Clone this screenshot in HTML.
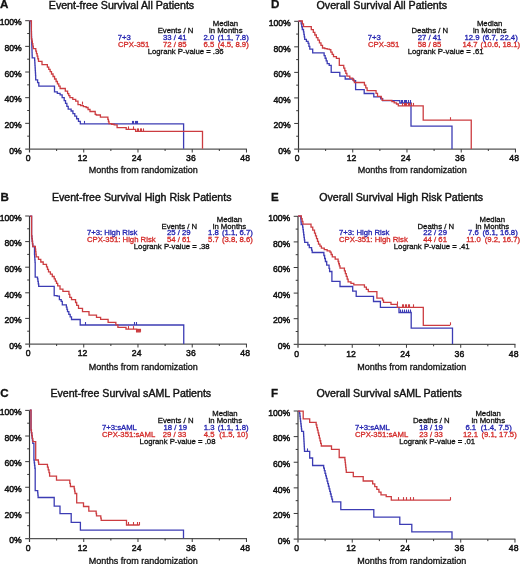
<!DOCTYPE html>
<html><head><meta charset="utf-8"><style>
html,body{margin:0;padding:0;background:#fff;}
svg{display:block;font-family:"Liberation Sans",sans-serif;filter:blur(0.4px);}
</style></head><body>
<svg width="520" height="564" viewBox="0 0 520 564">
<rect width="520" height="564" fill="#fff"/>
<text x="0.00" y="8.10" font-size="11.6" fill="#111" font-weight="700" text-anchor="start" stroke="#111" stroke-width="0.3">A</text>
<text x="271.00" y="8.10" font-size="11.6" fill="#111" font-weight="700" text-anchor="start" stroke="#111" stroke-width="0.3">D</text>
<text x="0.60" y="201.00" font-size="11.6" fill="#111" font-weight="700" text-anchor="start" stroke="#111" stroke-width="0.3">B</text>
<text x="271.00" y="201.20" font-size="11.6" fill="#111" font-weight="700" text-anchor="start" stroke="#111" stroke-width="0.3">E</text>
<text x="0.30" y="396.90" font-size="11.6" fill="#111" font-weight="700" text-anchor="start" stroke="#111" stroke-width="0.3">C</text>
<text x="271.00" y="397.00" font-size="11.6" fill="#111" font-weight="700" text-anchor="start" stroke="#111" stroke-width="0.3">F</text>
<text x="48.80" y="8.65" font-size="10.6" fill="#111" font-weight="400" text-anchor="start" stroke="#111" stroke-width="0.4" textLength="145.4" lengthAdjust="spacingAndGlyphs">Event-free Survival All Patients</text>
<text x="316.50" y="8.65" font-size="10.6" fill="#111" font-weight="400" text-anchor="start" stroke="#111" stroke-width="0.4" textLength="130.6" lengthAdjust="spacingAndGlyphs">Overall Survival All Patients</text>
<text x="51.90" y="200.70" font-size="10.6" fill="#111" font-weight="400" text-anchor="start" stroke="#111" stroke-width="0.4" textLength="179.6" lengthAdjust="spacingAndGlyphs">Event-free Survival High Risk Patients</text>
<text x="319.20" y="200.70" font-size="10.6" fill="#111" font-weight="400" text-anchor="start" stroke="#111" stroke-width="0.4" textLength="163.9" lengthAdjust="spacingAndGlyphs">Overall Survival High Risk Patients</text>
<text x="50.40" y="396.80" font-size="10.6" fill="#111" font-weight="400" text-anchor="start" stroke="#111" stroke-width="0.4" textLength="160.8" lengthAdjust="spacingAndGlyphs">Event-free Survival sAML Patients</text>
<text x="316.50" y="396.80" font-size="10.6" fill="#111" font-weight="400" text-anchor="start" stroke="#111" stroke-width="0.4" textLength="145.4" lengthAdjust="spacingAndGlyphs">Overall Survival sAML Patients</text>
<line x1="29.5" y1="20.7" x2="29.5" y2="152.5" stroke="#333" stroke-width="1.15"/>
<line x1="25.2" y1="149.0" x2="246.95999999999998" y2="149.0" stroke="#555" stroke-width="1.25"/>
<text x="21.80" y="153.70" font-size="9.4" fill="#111" font-weight="400" text-anchor="end" stroke="#111" stroke-width="0.5" textLength="12.5" lengthAdjust="spacingAndGlyphs">0%</text>
<line x1="27.2" y1="136.17" x2="29.5" y2="136.17" stroke="#3a3a3a" stroke-width="1"/>
<line x1="25.2" y1="123.34" x2="29.5" y2="123.34" stroke="#3a3a3a" stroke-width="1"/>
<text x="21.80" y="128.04" font-size="9.4" fill="#111" font-weight="400" text-anchor="end" stroke="#111" stroke-width="0.5" textLength="17.3" lengthAdjust="spacingAndGlyphs">20%</text>
<line x1="27.2" y1="110.51" x2="29.5" y2="110.51" stroke="#3a3a3a" stroke-width="1"/>
<line x1="25.2" y1="97.68" x2="29.5" y2="97.68" stroke="#3a3a3a" stroke-width="1"/>
<text x="21.80" y="102.38" font-size="9.4" fill="#111" font-weight="400" text-anchor="end" stroke="#111" stroke-width="0.5" textLength="17.3" lengthAdjust="spacingAndGlyphs">40%</text>
<line x1="27.2" y1="84.85" x2="29.5" y2="84.85" stroke="#3a3a3a" stroke-width="1"/>
<line x1="25.2" y1="72.02" x2="29.5" y2="72.02" stroke="#3a3a3a" stroke-width="1"/>
<text x="21.80" y="76.72" font-size="9.4" fill="#111" font-weight="400" text-anchor="end" stroke="#111" stroke-width="0.5" textLength="17.3" lengthAdjust="spacingAndGlyphs">60%</text>
<line x1="27.2" y1="59.19" x2="29.5" y2="59.19" stroke="#3a3a3a" stroke-width="1"/>
<line x1="25.2" y1="46.36" x2="29.5" y2="46.36" stroke="#3a3a3a" stroke-width="1"/>
<text x="21.80" y="51.06" font-size="9.4" fill="#111" font-weight="400" text-anchor="end" stroke="#111" stroke-width="0.5" textLength="17.3" lengthAdjust="spacingAndGlyphs">80%</text>
<line x1="27.2" y1="33.53" x2="29.5" y2="33.53" stroke="#3a3a3a" stroke-width="1"/>
<line x1="25.2" y1="20.70" x2="29.5" y2="20.70" stroke="#3a3a3a" stroke-width="1"/>
<text x="21.80" y="25.40" font-size="9.4" fill="#111" font-weight="400" text-anchor="end" stroke="#111" stroke-width="0.5" textLength="22.11" lengthAdjust="spacingAndGlyphs">100%</text>
<text x="28.20" y="161.30" font-size="9.4" fill="#111" font-weight="400" text-anchor="middle" stroke="#111" stroke-width="0.5" textLength="4.81" lengthAdjust="spacingAndGlyphs">0</text>
<line x1="56.62" y1="149.0" x2="56.62" y2="151.0" stroke="#3a3a3a" stroke-width="1"/>
<line x1="83.74" y1="149.0" x2="83.74" y2="152.5" stroke="#3a3a3a" stroke-width="1"/>
<text x="82.44" y="161.30" font-size="9.4" fill="#111" font-weight="400" text-anchor="middle" stroke="#111" stroke-width="0.5" textLength="9.62" lengthAdjust="spacingAndGlyphs">12</text>
<line x1="110.86" y1="149.0" x2="110.86" y2="151.0" stroke="#3a3a3a" stroke-width="1"/>
<line x1="137.98" y1="149.0" x2="137.98" y2="152.5" stroke="#3a3a3a" stroke-width="1"/>
<text x="136.68" y="161.30" font-size="9.4" fill="#111" font-weight="400" text-anchor="middle" stroke="#111" stroke-width="0.5" textLength="9.62" lengthAdjust="spacingAndGlyphs">24</text>
<line x1="165.10" y1="149.0" x2="165.10" y2="151.0" stroke="#3a3a3a" stroke-width="1"/>
<line x1="192.22" y1="149.0" x2="192.22" y2="152.5" stroke="#3a3a3a" stroke-width="1"/>
<text x="190.92" y="161.30" font-size="9.4" fill="#111" font-weight="400" text-anchor="middle" stroke="#111" stroke-width="0.5" textLength="9.62" lengthAdjust="spacingAndGlyphs">36</text>
<line x1="219.34" y1="149.0" x2="219.34" y2="151.0" stroke="#3a3a3a" stroke-width="1"/>
<line x1="246.46" y1="149.0" x2="246.46" y2="152.5" stroke="#3a3a3a" stroke-width="1"/>
<text x="245.16" y="161.30" font-size="9.4" fill="#111" font-weight="400" text-anchor="middle" stroke="#111" stroke-width="0.5" textLength="9.62" lengthAdjust="spacingAndGlyphs">48</text>
<text x="88.70" y="172.60" font-size="9" fill="#111" font-weight="400" text-anchor="start" stroke="#111" stroke-width="0.3" textLength="109" lengthAdjust="spacingAndGlyphs">Months from randomization</text>
<line x1="298.5" y1="21.3" x2="298.5" y2="152.5" stroke="#333" stroke-width="1.15"/>
<line x1="294.2" y1="149.0" x2="515.96" y2="149.0" stroke="#555" stroke-width="1.25"/>
<text x="290.80" y="153.70" font-size="9.4" fill="#111" font-weight="400" text-anchor="end" stroke="#111" stroke-width="0.5" textLength="12.5" lengthAdjust="spacingAndGlyphs">0%</text>
<line x1="296.2" y1="136.23" x2="298.5" y2="136.23" stroke="#3a3a3a" stroke-width="1"/>
<line x1="294.2" y1="123.46" x2="298.5" y2="123.46" stroke="#3a3a3a" stroke-width="1"/>
<text x="290.80" y="128.16" font-size="9.4" fill="#111" font-weight="400" text-anchor="end" stroke="#111" stroke-width="0.5" textLength="17.3" lengthAdjust="spacingAndGlyphs">20%</text>
<line x1="296.2" y1="110.69" x2="298.5" y2="110.69" stroke="#3a3a3a" stroke-width="1"/>
<line x1="294.2" y1="97.92" x2="298.5" y2="97.92" stroke="#3a3a3a" stroke-width="1"/>
<text x="290.80" y="102.62" font-size="9.4" fill="#111" font-weight="400" text-anchor="end" stroke="#111" stroke-width="0.5" textLength="17.3" lengthAdjust="spacingAndGlyphs">40%</text>
<line x1="296.2" y1="85.15" x2="298.5" y2="85.15" stroke="#3a3a3a" stroke-width="1"/>
<line x1="294.2" y1="72.38" x2="298.5" y2="72.38" stroke="#3a3a3a" stroke-width="1"/>
<text x="290.80" y="77.08" font-size="9.4" fill="#111" font-weight="400" text-anchor="end" stroke="#111" stroke-width="0.5" textLength="17.3" lengthAdjust="spacingAndGlyphs">60%</text>
<line x1="296.2" y1="59.61" x2="298.5" y2="59.61" stroke="#3a3a3a" stroke-width="1"/>
<line x1="294.2" y1="46.84" x2="298.5" y2="46.84" stroke="#3a3a3a" stroke-width="1"/>
<text x="290.80" y="51.54" font-size="9.4" fill="#111" font-weight="400" text-anchor="end" stroke="#111" stroke-width="0.5" textLength="17.3" lengthAdjust="spacingAndGlyphs">80%</text>
<line x1="296.2" y1="34.07" x2="298.5" y2="34.07" stroke="#3a3a3a" stroke-width="1"/>
<line x1="294.2" y1="21.30" x2="298.5" y2="21.30" stroke="#3a3a3a" stroke-width="1"/>
<text x="290.80" y="26.00" font-size="9.4" fill="#111" font-weight="400" text-anchor="end" stroke="#111" stroke-width="0.5" textLength="22.11" lengthAdjust="spacingAndGlyphs">100%</text>
<text x="297.20" y="161.30" font-size="9.4" fill="#111" font-weight="400" text-anchor="middle" stroke="#111" stroke-width="0.5" textLength="4.81" lengthAdjust="spacingAndGlyphs">0</text>
<line x1="325.62" y1="149.0" x2="325.62" y2="151.0" stroke="#3a3a3a" stroke-width="1"/>
<line x1="352.74" y1="149.0" x2="352.74" y2="152.5" stroke="#3a3a3a" stroke-width="1"/>
<text x="351.44" y="161.30" font-size="9.4" fill="#111" font-weight="400" text-anchor="middle" stroke="#111" stroke-width="0.5" textLength="9.62" lengthAdjust="spacingAndGlyphs">12</text>
<line x1="379.86" y1="149.0" x2="379.86" y2="151.0" stroke="#3a3a3a" stroke-width="1"/>
<line x1="406.98" y1="149.0" x2="406.98" y2="152.5" stroke="#3a3a3a" stroke-width="1"/>
<text x="405.68" y="161.30" font-size="9.4" fill="#111" font-weight="400" text-anchor="middle" stroke="#111" stroke-width="0.5" textLength="9.62" lengthAdjust="spacingAndGlyphs">24</text>
<line x1="434.10" y1="149.0" x2="434.10" y2="151.0" stroke="#3a3a3a" stroke-width="1"/>
<line x1="461.22" y1="149.0" x2="461.22" y2="152.5" stroke="#3a3a3a" stroke-width="1"/>
<text x="459.92" y="161.30" font-size="9.4" fill="#111" font-weight="400" text-anchor="middle" stroke="#111" stroke-width="0.5" textLength="9.62" lengthAdjust="spacingAndGlyphs">36</text>
<line x1="488.34" y1="149.0" x2="488.34" y2="151.0" stroke="#3a3a3a" stroke-width="1"/>
<line x1="515.46" y1="149.0" x2="515.46" y2="152.5" stroke="#3a3a3a" stroke-width="1"/>
<text x="514.16" y="161.30" font-size="9.4" fill="#111" font-weight="400" text-anchor="middle" stroke="#111" stroke-width="0.5" textLength="9.62" lengthAdjust="spacingAndGlyphs">48</text>
<text x="357.70" y="172.60" font-size="9" fill="#111" font-weight="400" text-anchor="start" stroke="#111" stroke-width="0.3" textLength="109" lengthAdjust="spacingAndGlyphs">Months from randomization</text>
<line x1="29.5" y1="216.0" x2="29.5" y2="347.5" stroke="#333" stroke-width="1.15"/>
<line x1="25.2" y1="344.0" x2="246.95999999999998" y2="344.0" stroke="#555" stroke-width="1.25"/>
<text x="21.80" y="348.70" font-size="9.4" fill="#111" font-weight="400" text-anchor="end" stroke="#111" stroke-width="0.5" textLength="12.5" lengthAdjust="spacingAndGlyphs">0%</text>
<line x1="27.2" y1="331.20" x2="29.5" y2="331.20" stroke="#3a3a3a" stroke-width="1"/>
<line x1="25.2" y1="318.40" x2="29.5" y2="318.40" stroke="#3a3a3a" stroke-width="1"/>
<text x="21.80" y="323.10" font-size="9.4" fill="#111" font-weight="400" text-anchor="end" stroke="#111" stroke-width="0.5" textLength="17.3" lengthAdjust="spacingAndGlyphs">20%</text>
<line x1="27.2" y1="305.60" x2="29.5" y2="305.60" stroke="#3a3a3a" stroke-width="1"/>
<line x1="25.2" y1="292.80" x2="29.5" y2="292.80" stroke="#3a3a3a" stroke-width="1"/>
<text x="21.80" y="297.50" font-size="9.4" fill="#111" font-weight="400" text-anchor="end" stroke="#111" stroke-width="0.5" textLength="17.3" lengthAdjust="spacingAndGlyphs">40%</text>
<line x1="27.2" y1="280.00" x2="29.5" y2="280.00" stroke="#3a3a3a" stroke-width="1"/>
<line x1="25.2" y1="267.20" x2="29.5" y2="267.20" stroke="#3a3a3a" stroke-width="1"/>
<text x="21.80" y="271.90" font-size="9.4" fill="#111" font-weight="400" text-anchor="end" stroke="#111" stroke-width="0.5" textLength="17.3" lengthAdjust="spacingAndGlyphs">60%</text>
<line x1="27.2" y1="254.40" x2="29.5" y2="254.40" stroke="#3a3a3a" stroke-width="1"/>
<line x1="25.2" y1="241.60" x2="29.5" y2="241.60" stroke="#3a3a3a" stroke-width="1"/>
<text x="21.80" y="246.30" font-size="9.4" fill="#111" font-weight="400" text-anchor="end" stroke="#111" stroke-width="0.5" textLength="17.3" lengthAdjust="spacingAndGlyphs">80%</text>
<line x1="27.2" y1="228.80" x2="29.5" y2="228.80" stroke="#3a3a3a" stroke-width="1"/>
<line x1="25.2" y1="216.00" x2="29.5" y2="216.00" stroke="#3a3a3a" stroke-width="1"/>
<text x="21.80" y="220.70" font-size="9.4" fill="#111" font-weight="400" text-anchor="end" stroke="#111" stroke-width="0.5" textLength="22.11" lengthAdjust="spacingAndGlyphs">100%</text>
<text x="28.20" y="356.30" font-size="9.4" fill="#111" font-weight="400" text-anchor="middle" stroke="#111" stroke-width="0.5" textLength="4.81" lengthAdjust="spacingAndGlyphs">0</text>
<line x1="56.62" y1="344.0" x2="56.62" y2="346.0" stroke="#3a3a3a" stroke-width="1"/>
<line x1="83.74" y1="344.0" x2="83.74" y2="347.5" stroke="#3a3a3a" stroke-width="1"/>
<text x="82.44" y="356.30" font-size="9.4" fill="#111" font-weight="400" text-anchor="middle" stroke="#111" stroke-width="0.5" textLength="9.62" lengthAdjust="spacingAndGlyphs">12</text>
<line x1="110.86" y1="344.0" x2="110.86" y2="346.0" stroke="#3a3a3a" stroke-width="1"/>
<line x1="137.98" y1="344.0" x2="137.98" y2="347.5" stroke="#3a3a3a" stroke-width="1"/>
<text x="136.68" y="356.30" font-size="9.4" fill="#111" font-weight="400" text-anchor="middle" stroke="#111" stroke-width="0.5" textLength="9.62" lengthAdjust="spacingAndGlyphs">24</text>
<line x1="165.10" y1="344.0" x2="165.10" y2="346.0" stroke="#3a3a3a" stroke-width="1"/>
<line x1="192.22" y1="344.0" x2="192.22" y2="347.5" stroke="#3a3a3a" stroke-width="1"/>
<text x="190.92" y="356.30" font-size="9.4" fill="#111" font-weight="400" text-anchor="middle" stroke="#111" stroke-width="0.5" textLength="9.62" lengthAdjust="spacingAndGlyphs">36</text>
<line x1="219.34" y1="344.0" x2="219.34" y2="346.0" stroke="#3a3a3a" stroke-width="1"/>
<line x1="246.46" y1="344.0" x2="246.46" y2="347.5" stroke="#3a3a3a" stroke-width="1"/>
<text x="245.16" y="356.30" font-size="9.4" fill="#111" font-weight="400" text-anchor="middle" stroke="#111" stroke-width="0.5" textLength="9.62" lengthAdjust="spacingAndGlyphs">48</text>
<text x="88.70" y="370.00" font-size="9" fill="#111" font-weight="400" text-anchor="start" stroke="#111" stroke-width="0.3" textLength="109" lengthAdjust="spacingAndGlyphs">Months from randomization</text>
<line x1="298.0" y1="216.3" x2="298.0" y2="347.8" stroke="#333" stroke-width="1.15"/>
<line x1="293.7" y1="344.3" x2="515.46" y2="344.3" stroke="#555" stroke-width="1.25"/>
<text x="290.30" y="349.00" font-size="9.4" fill="#111" font-weight="400" text-anchor="end" stroke="#111" stroke-width="0.5" textLength="12.5" lengthAdjust="spacingAndGlyphs">0%</text>
<line x1="295.7" y1="331.50" x2="298.0" y2="331.50" stroke="#3a3a3a" stroke-width="1"/>
<line x1="293.7" y1="318.70" x2="298.0" y2="318.70" stroke="#3a3a3a" stroke-width="1"/>
<text x="290.30" y="323.40" font-size="9.4" fill="#111" font-weight="400" text-anchor="end" stroke="#111" stroke-width="0.5" textLength="17.3" lengthAdjust="spacingAndGlyphs">20%</text>
<line x1="295.7" y1="305.90" x2="298.0" y2="305.90" stroke="#3a3a3a" stroke-width="1"/>
<line x1="293.7" y1="293.10" x2="298.0" y2="293.10" stroke="#3a3a3a" stroke-width="1"/>
<text x="290.30" y="297.80" font-size="9.4" fill="#111" font-weight="400" text-anchor="end" stroke="#111" stroke-width="0.5" textLength="17.3" lengthAdjust="spacingAndGlyphs">40%</text>
<line x1="295.7" y1="280.30" x2="298.0" y2="280.30" stroke="#3a3a3a" stroke-width="1"/>
<line x1="293.7" y1="267.50" x2="298.0" y2="267.50" stroke="#3a3a3a" stroke-width="1"/>
<text x="290.30" y="272.20" font-size="9.4" fill="#111" font-weight="400" text-anchor="end" stroke="#111" stroke-width="0.5" textLength="17.3" lengthAdjust="spacingAndGlyphs">60%</text>
<line x1="295.7" y1="254.70" x2="298.0" y2="254.70" stroke="#3a3a3a" stroke-width="1"/>
<line x1="293.7" y1="241.90" x2="298.0" y2="241.90" stroke="#3a3a3a" stroke-width="1"/>
<text x="290.30" y="246.60" font-size="9.4" fill="#111" font-weight="400" text-anchor="end" stroke="#111" stroke-width="0.5" textLength="17.3" lengthAdjust="spacingAndGlyphs">80%</text>
<line x1="295.7" y1="229.10" x2="298.0" y2="229.10" stroke="#3a3a3a" stroke-width="1"/>
<line x1="293.7" y1="216.30" x2="298.0" y2="216.30" stroke="#3a3a3a" stroke-width="1"/>
<text x="290.30" y="221.00" font-size="9.4" fill="#111" font-weight="400" text-anchor="end" stroke="#111" stroke-width="0.5" textLength="22.11" lengthAdjust="spacingAndGlyphs">100%</text>
<text x="296.70" y="356.60" font-size="9.4" fill="#111" font-weight="400" text-anchor="middle" stroke="#111" stroke-width="0.5" textLength="4.81" lengthAdjust="spacingAndGlyphs">0</text>
<line x1="325.12" y1="344.3" x2="325.12" y2="346.3" stroke="#3a3a3a" stroke-width="1"/>
<line x1="352.24" y1="344.3" x2="352.24" y2="347.8" stroke="#3a3a3a" stroke-width="1"/>
<text x="350.94" y="356.60" font-size="9.4" fill="#111" font-weight="400" text-anchor="middle" stroke="#111" stroke-width="0.5" textLength="9.62" lengthAdjust="spacingAndGlyphs">12</text>
<line x1="379.36" y1="344.3" x2="379.36" y2="346.3" stroke="#3a3a3a" stroke-width="1"/>
<line x1="406.48" y1="344.3" x2="406.48" y2="347.8" stroke="#3a3a3a" stroke-width="1"/>
<text x="405.18" y="356.60" font-size="9.4" fill="#111" font-weight="400" text-anchor="middle" stroke="#111" stroke-width="0.5" textLength="9.62" lengthAdjust="spacingAndGlyphs">24</text>
<line x1="433.60" y1="344.3" x2="433.60" y2="346.3" stroke="#3a3a3a" stroke-width="1"/>
<line x1="460.72" y1="344.3" x2="460.72" y2="347.8" stroke="#3a3a3a" stroke-width="1"/>
<text x="459.42" y="356.60" font-size="9.4" fill="#111" font-weight="400" text-anchor="middle" stroke="#111" stroke-width="0.5" textLength="9.62" lengthAdjust="spacingAndGlyphs">36</text>
<line x1="487.84" y1="344.3" x2="487.84" y2="346.3" stroke="#3a3a3a" stroke-width="1"/>
<line x1="514.96" y1="344.3" x2="514.96" y2="347.8" stroke="#3a3a3a" stroke-width="1"/>
<text x="513.66" y="356.60" font-size="9.4" fill="#111" font-weight="400" text-anchor="middle" stroke="#111" stroke-width="0.5" textLength="9.62" lengthAdjust="spacingAndGlyphs">48</text>
<text x="357.20" y="370.00" font-size="9" fill="#111" font-weight="400" text-anchor="start" stroke="#111" stroke-width="0.3" textLength="109" lengthAdjust="spacingAndGlyphs">Months from randomization</text>
<line x1="29.5" y1="410.4" x2="29.5" y2="542.0" stroke="#333" stroke-width="1.15"/>
<line x1="25.2" y1="538.5" x2="246.95999999999998" y2="538.5" stroke="#555" stroke-width="1.25"/>
<text x="21.80" y="543.20" font-size="9.4" fill="#111" font-weight="400" text-anchor="end" stroke="#111" stroke-width="0.5" textLength="12.5" lengthAdjust="spacingAndGlyphs">0%</text>
<line x1="27.2" y1="525.69" x2="29.5" y2="525.69" stroke="#3a3a3a" stroke-width="1"/>
<line x1="25.2" y1="512.88" x2="29.5" y2="512.88" stroke="#3a3a3a" stroke-width="1"/>
<text x="21.80" y="517.58" font-size="9.4" fill="#111" font-weight="400" text-anchor="end" stroke="#111" stroke-width="0.5" textLength="17.3" lengthAdjust="spacingAndGlyphs">20%</text>
<line x1="27.2" y1="500.07" x2="29.5" y2="500.07" stroke="#3a3a3a" stroke-width="1"/>
<line x1="25.2" y1="487.26" x2="29.5" y2="487.26" stroke="#3a3a3a" stroke-width="1"/>
<text x="21.80" y="491.96" font-size="9.4" fill="#111" font-weight="400" text-anchor="end" stroke="#111" stroke-width="0.5" textLength="17.3" lengthAdjust="spacingAndGlyphs">40%</text>
<line x1="27.2" y1="474.45" x2="29.5" y2="474.45" stroke="#3a3a3a" stroke-width="1"/>
<line x1="25.2" y1="461.64" x2="29.5" y2="461.64" stroke="#3a3a3a" stroke-width="1"/>
<text x="21.80" y="466.34" font-size="9.4" fill="#111" font-weight="400" text-anchor="end" stroke="#111" stroke-width="0.5" textLength="17.3" lengthAdjust="spacingAndGlyphs">60%</text>
<line x1="27.2" y1="448.83" x2="29.5" y2="448.83" stroke="#3a3a3a" stroke-width="1"/>
<line x1="25.2" y1="436.02" x2="29.5" y2="436.02" stroke="#3a3a3a" stroke-width="1"/>
<text x="21.80" y="440.72" font-size="9.4" fill="#111" font-weight="400" text-anchor="end" stroke="#111" stroke-width="0.5" textLength="17.3" lengthAdjust="spacingAndGlyphs">80%</text>
<line x1="27.2" y1="423.21" x2="29.5" y2="423.21" stroke="#3a3a3a" stroke-width="1"/>
<line x1="25.2" y1="410.40" x2="29.5" y2="410.40" stroke="#3a3a3a" stroke-width="1"/>
<text x="21.80" y="415.10" font-size="9.4" fill="#111" font-weight="400" text-anchor="end" stroke="#111" stroke-width="0.5" textLength="22.11" lengthAdjust="spacingAndGlyphs">100%</text>
<text x="28.20" y="550.80" font-size="9.4" fill="#111" font-weight="400" text-anchor="middle" stroke="#111" stroke-width="0.5" textLength="4.81" lengthAdjust="spacingAndGlyphs">0</text>
<line x1="56.62" y1="538.5" x2="56.62" y2="540.5" stroke="#3a3a3a" stroke-width="1"/>
<line x1="83.74" y1="538.5" x2="83.74" y2="542.0" stroke="#3a3a3a" stroke-width="1"/>
<text x="82.44" y="550.80" font-size="9.4" fill="#111" font-weight="400" text-anchor="middle" stroke="#111" stroke-width="0.5" textLength="9.62" lengthAdjust="spacingAndGlyphs">12</text>
<line x1="110.86" y1="538.5" x2="110.86" y2="540.5" stroke="#3a3a3a" stroke-width="1"/>
<line x1="137.98" y1="538.5" x2="137.98" y2="542.0" stroke="#3a3a3a" stroke-width="1"/>
<text x="136.68" y="550.80" font-size="9.4" fill="#111" font-weight="400" text-anchor="middle" stroke="#111" stroke-width="0.5" textLength="9.62" lengthAdjust="spacingAndGlyphs">24</text>
<line x1="165.10" y1="538.5" x2="165.10" y2="540.5" stroke="#3a3a3a" stroke-width="1"/>
<line x1="192.22" y1="538.5" x2="192.22" y2="542.0" stroke="#3a3a3a" stroke-width="1"/>
<text x="190.92" y="550.80" font-size="9.4" fill="#111" font-weight="400" text-anchor="middle" stroke="#111" stroke-width="0.5" textLength="9.62" lengthAdjust="spacingAndGlyphs">36</text>
<line x1="219.34" y1="538.5" x2="219.34" y2="540.5" stroke="#3a3a3a" stroke-width="1"/>
<line x1="246.46" y1="538.5" x2="246.46" y2="542.0" stroke="#3a3a3a" stroke-width="1"/>
<text x="245.16" y="550.80" font-size="9.4" fill="#111" font-weight="400" text-anchor="middle" stroke="#111" stroke-width="0.5" textLength="9.62" lengthAdjust="spacingAndGlyphs">48</text>
<text x="88.70" y="564.00" font-size="9" fill="#111" font-weight="400" text-anchor="start" stroke="#111" stroke-width="0.3" textLength="109" lengthAdjust="spacingAndGlyphs">Months from randomization</text>
<line x1="298.0" y1="411.0" x2="298.0" y2="542.6" stroke="#333" stroke-width="1.15"/>
<line x1="293.7" y1="539.1" x2="515.46" y2="539.1" stroke="#555" stroke-width="1.25"/>
<text x="290.30" y="543.80" font-size="9.4" fill="#111" font-weight="400" text-anchor="end" stroke="#111" stroke-width="0.5" textLength="12.5" lengthAdjust="spacingAndGlyphs">0%</text>
<line x1="295.7" y1="526.29" x2="298.0" y2="526.29" stroke="#3a3a3a" stroke-width="1"/>
<line x1="293.7" y1="513.48" x2="298.0" y2="513.48" stroke="#3a3a3a" stroke-width="1"/>
<text x="290.30" y="518.18" font-size="9.4" fill="#111" font-weight="400" text-anchor="end" stroke="#111" stroke-width="0.5" textLength="17.3" lengthAdjust="spacingAndGlyphs">20%</text>
<line x1="295.7" y1="500.67" x2="298.0" y2="500.67" stroke="#3a3a3a" stroke-width="1"/>
<line x1="293.7" y1="487.86" x2="298.0" y2="487.86" stroke="#3a3a3a" stroke-width="1"/>
<text x="290.30" y="492.56" font-size="9.4" fill="#111" font-weight="400" text-anchor="end" stroke="#111" stroke-width="0.5" textLength="17.3" lengthAdjust="spacingAndGlyphs">40%</text>
<line x1="295.7" y1="475.05" x2="298.0" y2="475.05" stroke="#3a3a3a" stroke-width="1"/>
<line x1="293.7" y1="462.24" x2="298.0" y2="462.24" stroke="#3a3a3a" stroke-width="1"/>
<text x="290.30" y="466.94" font-size="9.4" fill="#111" font-weight="400" text-anchor="end" stroke="#111" stroke-width="0.5" textLength="17.3" lengthAdjust="spacingAndGlyphs">60%</text>
<line x1="295.7" y1="449.43" x2="298.0" y2="449.43" stroke="#3a3a3a" stroke-width="1"/>
<line x1="293.7" y1="436.62" x2="298.0" y2="436.62" stroke="#3a3a3a" stroke-width="1"/>
<text x="290.30" y="441.32" font-size="9.4" fill="#111" font-weight="400" text-anchor="end" stroke="#111" stroke-width="0.5" textLength="17.3" lengthAdjust="spacingAndGlyphs">80%</text>
<line x1="295.7" y1="423.81" x2="298.0" y2="423.81" stroke="#3a3a3a" stroke-width="1"/>
<line x1="293.7" y1="411.00" x2="298.0" y2="411.00" stroke="#3a3a3a" stroke-width="1"/>
<text x="290.30" y="415.70" font-size="9.4" fill="#111" font-weight="400" text-anchor="end" stroke="#111" stroke-width="0.5" textLength="22.11" lengthAdjust="spacingAndGlyphs">100%</text>
<text x="296.70" y="551.40" font-size="9.4" fill="#111" font-weight="400" text-anchor="middle" stroke="#111" stroke-width="0.5" textLength="4.81" lengthAdjust="spacingAndGlyphs">0</text>
<line x1="325.12" y1="539.1" x2="325.12" y2="541.1" stroke="#3a3a3a" stroke-width="1"/>
<line x1="352.24" y1="539.1" x2="352.24" y2="542.6" stroke="#3a3a3a" stroke-width="1"/>
<text x="350.94" y="551.40" font-size="9.4" fill="#111" font-weight="400" text-anchor="middle" stroke="#111" stroke-width="0.5" textLength="9.62" lengthAdjust="spacingAndGlyphs">12</text>
<line x1="379.36" y1="539.1" x2="379.36" y2="541.1" stroke="#3a3a3a" stroke-width="1"/>
<line x1="406.48" y1="539.1" x2="406.48" y2="542.6" stroke="#3a3a3a" stroke-width="1"/>
<text x="405.18" y="551.40" font-size="9.4" fill="#111" font-weight="400" text-anchor="middle" stroke="#111" stroke-width="0.5" textLength="9.62" lengthAdjust="spacingAndGlyphs">24</text>
<line x1="433.60" y1="539.1" x2="433.60" y2="541.1" stroke="#3a3a3a" stroke-width="1"/>
<line x1="460.72" y1="539.1" x2="460.72" y2="542.6" stroke="#3a3a3a" stroke-width="1"/>
<text x="459.42" y="551.40" font-size="9.4" fill="#111" font-weight="400" text-anchor="middle" stroke="#111" stroke-width="0.5" textLength="9.62" lengthAdjust="spacingAndGlyphs">36</text>
<line x1="487.84" y1="539.1" x2="487.84" y2="541.1" stroke="#3a3a3a" stroke-width="1"/>
<line x1="514.96" y1="539.1" x2="514.96" y2="542.6" stroke="#3a3a3a" stroke-width="1"/>
<text x="513.66" y="551.40" font-size="9.4" fill="#111" font-weight="400" text-anchor="middle" stroke="#111" stroke-width="0.5" textLength="9.62" lengthAdjust="spacingAndGlyphs">48</text>
<text x="357.20" y="564.00" font-size="9" fill="#111" font-weight="400" text-anchor="start" stroke="#111" stroke-width="0.3" textLength="109" lengthAdjust="spacingAndGlyphs">Months from randomization</text>
<text transform="translate(212.80,25.90) scale(1.0197,1)" font-size="7.6" fill="#111" font-weight="400" text-anchor="start" stroke="#111" stroke-width="0.3">Median</text>
<text transform="translate(157.70,32.90) scale(1.0197,1)" font-size="7.6" fill="#111" font-weight="400" text-anchor="start" stroke="#111" stroke-width="0.3">Events / N</text>
<text transform="translate(209.00,32.90) scale(1.0197,1)" font-size="7.6" fill="#111" font-weight="400" text-anchor="start" stroke="#111" stroke-width="0.3">in Months</text>
<text transform="translate(117.70,40.10) scale(1.0197,1)" font-size="7.6" fill="#2323b0" font-weight="400" text-anchor="start" stroke="#2323b0" stroke-width="0.3">7+3</text>
<text transform="translate(163.00,40.10) scale(1.0197,1)" font-size="7.6" fill="#2323b0" font-weight="400" text-anchor="start" stroke="#2323b0" stroke-width="0.3">33 / 41</text>
<text transform="translate(203.50,40.10) scale(1.0197,1)" font-size="7.6" fill="#2323b0" font-weight="400" text-anchor="start" stroke="#2323b0" stroke-width="0.3">2.0</text>
<text transform="translate(217.80,40.10) scale(1.0197,1)" font-size="7.6" fill="#2323b0" font-weight="400" text-anchor="start" stroke="#2323b0" stroke-width="0.3">(1.1, 7.8)</text>
<text transform="translate(118.00,47.00) scale(1.0197,1)" font-size="7.6" fill="#d42c2a" font-weight="400" text-anchor="start" stroke="#d42c2a" stroke-width="0.3">CPX-351</text>
<text transform="translate(163.00,47.00) scale(1.0197,1)" font-size="7.6" fill="#d42c2a" font-weight="400" text-anchor="start" stroke="#d42c2a" stroke-width="0.3">72 / 85</text>
<text transform="translate(203.50,47.00) scale(1.0197,1)" font-size="7.6" fill="#d42c2a" font-weight="400" text-anchor="start" stroke="#d42c2a" stroke-width="0.3">6.5</text>
<text transform="translate(217.80,47.00) scale(1.0197,1)" font-size="7.6" fill="#d42c2a" font-weight="400" text-anchor="start" stroke="#d42c2a" stroke-width="0.3">(4.5, 8.9)</text>
<text transform="translate(147.70,54.30) scale(1.0197,1)" font-size="7.6" fill="#111" font-weight="400" text-anchor="start" stroke="#111" stroke-width="0.3">Logrank P-value = .36</text>
<text transform="translate(476.90,25.90) scale(1.0197,1)" font-size="7.6" fill="#111" font-weight="400" text-anchor="start" stroke="#111" stroke-width="0.3">Median</text>
<text transform="translate(411.50,32.90) scale(1.0197,1)" font-size="7.6" fill="#111" font-weight="400" text-anchor="start" stroke="#111" stroke-width="0.3">Deaths / N</text>
<text transform="translate(473.00,32.90) scale(1.0197,1)" font-size="7.6" fill="#111" font-weight="400" text-anchor="start" stroke="#111" stroke-width="0.3">in Months</text>
<text transform="translate(367.70,40.10) scale(1.0197,1)" font-size="7.6" fill="#2323b0" font-weight="400" text-anchor="start" stroke="#2323b0" stroke-width="0.3">7+3</text>
<text transform="translate(417.70,40.10) scale(1.0197,1)" font-size="7.6" fill="#2323b0" font-weight="400" text-anchor="start" stroke="#2323b0" stroke-width="0.3">27 / 41</text>
<text transform="translate(464.40,40.10) scale(1.0197,1)" font-size="7.6" fill="#2323b0" font-weight="400" text-anchor="start" stroke="#2323b0" stroke-width="0.3">12.9</text>
<text transform="translate(482.50,40.10) scale(1.0197,1)" font-size="7.6" fill="#2323b0" font-weight="400" text-anchor="start" stroke="#2323b0" stroke-width="0.3">(6.7, 22.4)</text>
<text transform="translate(368.00,47.00) scale(1.0197,1)" font-size="7.6" fill="#d42c2a" font-weight="400" text-anchor="start" stroke="#d42c2a" stroke-width="0.3">CPX-351</text>
<text transform="translate(417.70,47.00) scale(1.0197,1)" font-size="7.6" fill="#d42c2a" font-weight="400" text-anchor="start" stroke="#d42c2a" stroke-width="0.3">58 / 85</text>
<text transform="translate(462.50,47.00) scale(1.0197,1)" font-size="7.6" fill="#d42c2a" font-weight="400" text-anchor="start" stroke="#d42c2a" stroke-width="0.3">14.7</text>
<text transform="translate(480.60,47.00) scale(1.0197,1)" font-size="7.6" fill="#d42c2a" font-weight="400" text-anchor="start" stroke="#d42c2a" stroke-width="0.3">(10.6, 18.1)</text>
<text transform="translate(407.70,54.30) scale(1.0197,1)" font-size="7.6" fill="#111" font-weight="400" text-anchor="start" stroke="#111" stroke-width="0.3">Logrank P-value = .61</text>
<text transform="translate(216.70,221.50) scale(1.0197,1)" font-size="7.6" fill="#111" font-weight="400" text-anchor="start" stroke="#111" stroke-width="0.3">Median</text>
<text transform="translate(161.50,228.50) scale(1.0197,1)" font-size="7.6" fill="#111" font-weight="400" text-anchor="start" stroke="#111" stroke-width="0.3">Events / N</text>
<text transform="translate(212.70,228.50) scale(1.0197,1)" font-size="7.6" fill="#111" font-weight="400" text-anchor="start" stroke="#111" stroke-width="0.3">in Months</text>
<text transform="translate(86.90,234.90) scale(1.0197,1)" font-size="7.6" fill="#2323b0" font-weight="400" text-anchor="start" stroke="#2323b0" stroke-width="0.3">7+3: High Risk</text>
<text transform="translate(166.90,234.90) scale(1.0197,1)" font-size="7.6" fill="#2323b0" font-weight="400" text-anchor="start" stroke="#2323b0" stroke-width="0.3">25 / 29</text>
<text transform="translate(208.10,234.90) scale(1.0197,1)" font-size="7.6" fill="#2323b0" font-weight="400" text-anchor="start" stroke="#2323b0" stroke-width="0.3">1.8</text>
<text transform="translate(221.90,234.90) scale(1.0197,1)" font-size="7.6" fill="#2323b0" font-weight="400" text-anchor="start" stroke="#2323b0" stroke-width="0.3">(1.1, 6.7)</text>
<text transform="translate(86.90,241.80) scale(1.0197,1)" font-size="7.6" fill="#d42c2a" font-weight="400" text-anchor="start" stroke="#d42c2a" stroke-width="0.3">CPX-351: High Risk</text>
<text transform="translate(166.90,241.80) scale(1.0197,1)" font-size="7.6" fill="#d42c2a" font-weight="400" text-anchor="start" stroke="#d42c2a" stroke-width="0.3">54 / 61</text>
<text transform="translate(208.10,241.80) scale(1.0197,1)" font-size="7.6" fill="#d42c2a" font-weight="400" text-anchor="start" stroke="#d42c2a" stroke-width="0.3">5.7</text>
<text transform="translate(221.90,241.80) scale(1.0197,1)" font-size="7.6" fill="#d42c2a" font-weight="400" text-anchor="start" stroke="#d42c2a" stroke-width="0.3">(3.8, 8.6)</text>
<text transform="translate(133.80,248.60) scale(1.0197,1)" font-size="7.6" fill="#111" font-weight="400" text-anchor="start" stroke="#111" stroke-width="0.3">Logrank P-value = .38</text>
<text transform="translate(479.60,221.50) scale(1.0197,1)" font-size="7.6" fill="#111" font-weight="400" text-anchor="start" stroke="#111" stroke-width="0.3">Median</text>
<text transform="translate(417.50,228.50) scale(1.0197,1)" font-size="7.6" fill="#111" font-weight="400" text-anchor="start" stroke="#111" stroke-width="0.3">Deaths / N</text>
<text transform="translate(475.60,228.50) scale(1.0197,1)" font-size="7.6" fill="#111" font-weight="400" text-anchor="start" stroke="#111" stroke-width="0.3">in Months</text>
<text transform="translate(339.00,234.90) scale(1.0197,1)" font-size="7.6" fill="#2323b0" font-weight="400" text-anchor="start" stroke="#2323b0" stroke-width="0.3">7+3: High Risk</text>
<text transform="translate(423.30,234.90) scale(1.0197,1)" font-size="7.6" fill="#2323b0" font-weight="400" text-anchor="start" stroke="#2323b0" stroke-width="0.3">22 / 29</text>
<text transform="translate(468.10,234.90) scale(1.0197,1)" font-size="7.6" fill="#2323b0" font-weight="400" text-anchor="start" stroke="#2323b0" stroke-width="0.3">7.6</text>
<text transform="translate(482.50,234.90) scale(1.0197,1)" font-size="7.6" fill="#2323b0" font-weight="400" text-anchor="start" stroke="#2323b0" stroke-width="0.3">(6.1, 16.8)</text>
<text transform="translate(339.00,241.80) scale(1.0197,1)" font-size="7.6" fill="#d42c2a" font-weight="400" text-anchor="start" stroke="#d42c2a" stroke-width="0.3">CPX-351: High Risk</text>
<text transform="translate(423.30,241.80) scale(1.0197,1)" font-size="7.6" fill="#d42c2a" font-weight="400" text-anchor="start" stroke="#d42c2a" stroke-width="0.3">44 / 61</text>
<text transform="translate(466.30,241.80) scale(1.0197,1)" font-size="7.6" fill="#d42c2a" font-weight="400" text-anchor="start" stroke="#d42c2a" stroke-width="0.3">11.0</text>
<text transform="translate(484.80,241.80) scale(1.0197,1)" font-size="7.6" fill="#d42c2a" font-weight="400" text-anchor="start" stroke="#d42c2a" stroke-width="0.3">(9.2, 16.7)</text>
<text transform="translate(393.80,248.60) scale(1.0197,1)" font-size="7.6" fill="#111" font-weight="400" text-anchor="start" stroke="#111" stroke-width="0.3">Logrank P-value = .41</text>
<text transform="translate(212.30,415.60) scale(1.0197,1)" font-size="7.6" fill="#111" font-weight="400" text-anchor="start" stroke="#111" stroke-width="0.3">Median</text>
<text transform="translate(157.80,422.70) scale(1.0197,1)" font-size="7.6" fill="#111" font-weight="400" text-anchor="start" stroke="#111" stroke-width="0.3">Events / N</text>
<text transform="translate(208.50,422.70) scale(1.0197,1)" font-size="7.6" fill="#111" font-weight="400" text-anchor="start" stroke="#111" stroke-width="0.3">in Months</text>
<text transform="translate(101.90,429.60) scale(1.0197,1)" font-size="7.6" fill="#2323b0" font-weight="400" text-anchor="start" stroke="#2323b0" stroke-width="0.3">7+3:sAML</text>
<text transform="translate(163.50,429.60) scale(1.0197,1)" font-size="7.6" fill="#2323b0" font-weight="400" text-anchor="start" stroke="#2323b0" stroke-width="0.3">18 / 19</text>
<text transform="translate(203.80,429.60) scale(1.0197,1)" font-size="7.6" fill="#2323b0" font-weight="400" text-anchor="start" stroke="#2323b0" stroke-width="0.3">1.3</text>
<text transform="translate(217.70,429.60) scale(1.0197,1)" font-size="7.6" fill="#2323b0" font-weight="400" text-anchor="start" stroke="#2323b0" stroke-width="0.3">(1.1, 1.8)</text>
<text transform="translate(101.90,436.50) scale(1.0197,1)" font-size="7.6" fill="#d42c2a" font-weight="400" text-anchor="start" stroke="#d42c2a" stroke-width="0.3">CPX-351:sAML</text>
<text transform="translate(162.70,436.50) scale(1.0197,1)" font-size="7.6" fill="#d42c2a" font-weight="400" text-anchor="start" stroke="#d42c2a" stroke-width="0.3">29 / 33</text>
<text transform="translate(203.80,436.50) scale(1.0197,1)" font-size="7.6" fill="#d42c2a" font-weight="400" text-anchor="start" stroke="#d42c2a" stroke-width="0.3">4.5</text>
<text transform="translate(219.20,436.50) scale(1.0197,1)" font-size="7.6" fill="#d42c2a" font-weight="400" text-anchor="start" stroke="#d42c2a" stroke-width="0.3">(1.5, 10)</text>
<text transform="translate(139.60,443.50) scale(1.0197,1)" font-size="7.6" fill="#111" font-weight="400" text-anchor="start" stroke="#111" stroke-width="0.3">Logrank P-value = .08</text>
<text transform="translate(475.40,415.60) scale(1.0197,1)" font-size="7.6" fill="#111" font-weight="400" text-anchor="start" stroke="#111" stroke-width="0.3">Median</text>
<text transform="translate(413.00,422.70) scale(1.0197,1)" font-size="7.6" fill="#111" font-weight="400" text-anchor="start" stroke="#111" stroke-width="0.3">Deaths / N</text>
<text transform="translate(471.50,422.70) scale(1.0197,1)" font-size="7.6" fill="#111" font-weight="400" text-anchor="start" stroke="#111" stroke-width="0.3">in Months</text>
<text transform="translate(354.90,429.60) scale(1.0197,1)" font-size="7.6" fill="#2323b0" font-weight="400" text-anchor="start" stroke="#2323b0" stroke-width="0.3">7+3:sAML</text>
<text transform="translate(419.20,429.60) scale(1.0197,1)" font-size="7.6" fill="#2323b0" font-weight="400" text-anchor="start" stroke="#2323b0" stroke-width="0.3">18 / 19</text>
<text transform="translate(465.40,429.60) scale(1.0197,1)" font-size="7.6" fill="#2323b0" font-weight="400" text-anchor="start" stroke="#2323b0" stroke-width="0.3">6.1</text>
<text transform="translate(480.80,429.60) scale(1.0197,1)" font-size="7.6" fill="#2323b0" font-weight="400" text-anchor="start" stroke="#2323b0" stroke-width="0.3">(1.4, 7.5)</text>
<text transform="translate(354.90,436.50) scale(1.0197,1)" font-size="7.6" fill="#d42c2a" font-weight="400" text-anchor="start" stroke="#d42c2a" stroke-width="0.3">CPX-351:sAML</text>
<text transform="translate(419.20,436.50) scale(1.0197,1)" font-size="7.6" fill="#d42c2a" font-weight="400" text-anchor="start" stroke="#d42c2a" stroke-width="0.3">23 / 33</text>
<text transform="translate(463.00,436.50) scale(1.0197,1)" font-size="7.6" fill="#d42c2a" font-weight="400" text-anchor="start" stroke="#d42c2a" stroke-width="0.3">12.1</text>
<text transform="translate(481.50,436.50) scale(1.0197,1)" font-size="7.6" fill="#d42c2a" font-weight="400" text-anchor="start" stroke="#d42c2a" stroke-width="0.3">(9.1, 17.5)</text>
<text transform="translate(399.20,443.50) scale(1.0197,1)" font-size="7.6" fill="#111" font-weight="400" text-anchor="start" stroke="#111" stroke-width="0.3">Logrank P-value = .01</text>
<path d="M29.60,20.90 H31.00 H31.09 V23.54 H31.17 V26.17 H31.26 V28.81 H31.34 V31.44 H31.43 V34.08 H31.51 V36.71 H31.60 V39.35 H31.69 V41.99 H31.77 V44.62 H31.86 V47.26 H31.94 V49.89 H32.03 V52.53 H32.11 V55.16 H32.20 V57.80 H34.50 H34.65 V60.32 H34.80 V62.85 H34.95 V65.38 H35.10 V67.90 H35.25 V70.42 H35.40 V72.95 H35.55 V75.47 H35.70 V78.00 V79.80 H37.60 V82.70 H38.80 V86.20 H54.50 V91.90 H57.30 V93.35 H60.10 V94.80 H62.15 V97.70 H64.20 V100.60 H65.53 V103.47 H66.87 V106.33 H68.20 V109.20 H71.10 V111.00 H72.94 V113.58 H74.78 V116.16 H76.62 V118.74 H78.46 V121.32 H80.30 V123.90 H183.60 V148.80" fill="none" stroke="#3c3cb4" stroke-width="1.3"/>
<line x1="84.50" y1="120.90" x2="84.50" y2="123.90" stroke="#3c3cb4" stroke-width="1.1"/>
<line x1="132.50" y1="120.90" x2="132.50" y2="123.90" stroke="#3c3cb4" stroke-width="1.1"/>
<line x1="133.50" y1="120.90" x2="133.50" y2="123.90" stroke="#3c3cb4" stroke-width="1.1"/>
<line x1="135.50" y1="120.90" x2="135.50" y2="123.90" stroke="#3c3cb4" stroke-width="1.1"/>
<line x1="136.50" y1="120.90" x2="136.50" y2="123.90" stroke="#3c3cb4" stroke-width="1.1"/>
<line x1="137.50" y1="120.90" x2="137.50" y2="123.90" stroke="#3c3cb4" stroke-width="1.1"/>
<path d="M29.60,20.90 H31.40 V38.80 H31.88 V41.25 H32.35 V43.70 H32.82 V46.15 H33.30 V48.60 H35.10 H35.78 V51.14 H36.46 V53.68 H37.14 V56.22 H37.82 V58.76 H38.50 V61.30 H42.00 V64.70 H46.00 H47.38 V67.03 H48.75 V69.35 H50.12 V71.67 H51.50 V74.00 H53.03 V76.50 H54.57 V79.00 H56.10 V81.50 H57.43 V83.83 H58.77 V86.17 H60.10 V88.50 H63.00 H65.30 V91.10 H67.60 V93.70 H68.75 V95.70 H69.90 V97.70 H72.80 V99.45 H75.70 V101.20 H78.00 V104.60 H80.70 V105.57 H83.40 V106.53 H86.10 V107.50 H88.05 V109.50 H90.00 V111.50 H95.20 V114.40 H96.30 V115.00 H100.40 V117.10 H107.30 H107.87 V119.30 H108.43 V121.50 H109.00 V123.70 H111.60 V124.25 H114.20 V124.80 H117.10 V127.70 H126.20 V129.40 H135.60 V131.40 H202.50 V148.80" fill="none" stroke="#cc3c40" stroke-width="1.3"/>
<line x1="82.50" y1="101.60" x2="82.50" y2="104.60" stroke="#cc3c40" stroke-width="1.1"/>
<line x1="128.50" y1="126.40" x2="128.50" y2="129.40" stroke="#cc3c40" stroke-width="1.1"/>
<line x1="133.50" y1="126.40" x2="133.50" y2="129.40" stroke="#cc3c40" stroke-width="1.1"/>
<line x1="137.50" y1="128.40" x2="137.50" y2="131.40" stroke="#cc3c40" stroke-width="1.1"/>
<line x1="138.50" y1="128.40" x2="138.50" y2="131.40" stroke="#cc3c40" stroke-width="1.1"/>
<line x1="140.50" y1="128.40" x2="140.50" y2="131.40" stroke="#cc3c40" stroke-width="1.1"/>
<line x1="141.50" y1="128.40" x2="141.50" y2="131.40" stroke="#cc3c40" stroke-width="1.1"/>
<line x1="143.50" y1="128.40" x2="143.50" y2="131.40" stroke="#cc3c40" stroke-width="1.1"/>
<path d="M298.50,21.20 H300.60 H301.17 V23.97 H301.73 V26.73 H302.30 V29.50 H303.50 V31.80 H303.90 V34.30 H304.30 V36.80 H304.70 V39.30 H306.40 V41.35 H308.10 V43.40 H308.95 V46.30 H309.80 V49.20 H312.70 V52.90 H323.10 H324.12 V55.58 H325.15 V58.25 H326.18 V60.92 H327.20 V63.60 H329.20 V65.30 H331.20 V67.00 V72.40 H339.80 V76.20 H345.20 V79.00 H351.50 H353.55 V80.75 H355.60 V82.50 V89.60 H364.20 V93.50 H373.80 V96.90 H378.70 H380.70 V98.75 H382.70 V100.60 H399.80 V103.00 H411.00 V126.20 H452.00 V149.00" fill="none" stroke="#3c3cb4" stroke-width="1.3"/>
<line x1="401.50" y1="100.00" x2="401.50" y2="103.00" stroke="#3c3cb4" stroke-width="1.1"/>
<line x1="402.50" y1="100.00" x2="402.50" y2="103.00" stroke="#3c3cb4" stroke-width="1.1"/>
<line x1="404.50" y1="100.00" x2="404.50" y2="103.00" stroke="#3c3cb4" stroke-width="1.1"/>
<line x1="405.50" y1="100.00" x2="405.50" y2="103.00" stroke="#3c3cb4" stroke-width="1.1"/>
<line x1="406.50" y1="100.00" x2="406.50" y2="103.00" stroke="#3c3cb4" stroke-width="1.1"/>
<line x1="408.50" y1="100.00" x2="408.50" y2="103.00" stroke="#3c3cb4" stroke-width="1.1"/>
<line x1="410.50" y1="100.00" x2="410.50" y2="103.00" stroke="#3c3cb4" stroke-width="1.1"/>
<path d="M298.50,21.00 H301.20 H302.35 V23.85 H303.50 V26.70 H309.30 H311.30 V29.55 H313.30 V32.40 H314.83 V35.00 H316.37 V37.60 H317.90 V40.20 H319.43 V42.80 H320.97 V45.40 H322.50 V48.00 H324.83 V48.57 H327.17 V49.13 H329.50 V49.70 H330.83 V52.03 H332.17 V54.37 H333.50 V56.70 H336.40 V58.40 H339.30 V60.10 V65.30 H342.70 H343.75 V68.03 H344.80 V70.75 H345.85 V73.47 H346.90 V76.20 H349.80 V78.20 H352.70 V80.20 H354.40 V82.50 H363.10 H364.43 V85.20 H365.77 V87.90 H367.10 V90.60 H374.60 H376.05 V93.45 H377.50 V96.30 H380.40 H381.25 V98.35 H382.10 V100.40 H389.60 H391.90 V101.60 H394.20 V102.80 H396.50 V104.00 H398.30 V105.80 H423.20 V120.20 H471.25 V149.00" fill="none" stroke="#cc3c40" stroke-width="1.3"/>
<line x1="402.50" y1="102.90" x2="402.50" y2="105.90" stroke="#cc3c40" stroke-width="1.1"/>
<line x1="404.50" y1="102.90" x2="404.50" y2="105.90" stroke="#cc3c40" stroke-width="1.1"/>
<line x1="405.50" y1="102.90" x2="405.50" y2="105.90" stroke="#cc3c40" stroke-width="1.1"/>
<line x1="406.50" y1="102.90" x2="406.50" y2="105.90" stroke="#cc3c40" stroke-width="1.1"/>
<line x1="408.50" y1="102.90" x2="408.50" y2="105.90" stroke="#cc3c40" stroke-width="1.1"/>
<line x1="409.50" y1="102.90" x2="409.50" y2="105.90" stroke="#cc3c40" stroke-width="1.1"/>
<line x1="411.50" y1="102.90" x2="411.50" y2="105.90" stroke="#cc3c40" stroke-width="1.1"/>
<line x1="413.50" y1="102.90" x2="413.50" y2="105.90" stroke="#cc3c40" stroke-width="1.1"/>
<line x1="450.50" y1="117.20" x2="450.50" y2="120.20" stroke="#cc3c40" stroke-width="1.1"/>
<path d="M29.80,216.20 H31.60 V236.00 H31.90 V238.62 H32.20 V241.25 H32.50 V243.88 H32.80 V246.50 H34.50 V254.50 H34.67 V257.12 H34.85 V259.75 H35.03 V262.38 H35.20 V265.00 V277.10 H37.50 V278.80 H37.90 V281.30 H38.30 V283.80 H38.70 V286.30 H54.20 V295.60 H57.10 V296.20 H59.40 V299.60 H61.20 V301.30 H62.30 V304.80 H65.80 H66.37 V307.10 H66.93 V309.40 H67.50 V311.70 H68.83 V314.30 H70.17 V316.90 H71.50 V319.50 H80.20 V325.00 H183.75 V343.90" fill="none" stroke="#3c3cb4" stroke-width="1.3"/>
<line x1="85.50" y1="322.00" x2="85.50" y2="325.00" stroke="#3c3cb4" stroke-width="1.1"/>
<line x1="134.50" y1="322.00" x2="134.50" y2="325.00" stroke="#3c3cb4" stroke-width="1.1"/>
<line x1="136.50" y1="322.00" x2="136.50" y2="325.00" stroke="#3c3cb4" stroke-width="1.1"/>
<path d="M29.80,216.20 H31.60 V236.00 H31.90 V238.62 H32.20 V241.25 H32.50 V243.88 H32.80 V246.50 H35.10 H35.38 V249.07 H35.65 V251.65 H35.93 V254.23 H36.20 V256.80 H38.50 V259.40 H40.80 V262.00 H43.20 V264.30 H45.50 H46.50 V266.83 H47.50 V269.37 H48.50 V271.90 H50.40 V274.20 H52.30 V276.50 H54.20 V278.80 H55.37 V281.13 H56.53 V283.47 H57.70 V285.80 H60.00 V289.20 H62.90 V291.30 H68.10 H68.95 V294.30 H69.80 V297.30 H71.50 V299.60 H74.40 H75.55 V302.50 H76.70 V305.40 H78.50 V308.30 H82.50 V311.70 H89.00 V315.20 H96.50 V317.30 H100.60 V319.30 H108.10 V322.30 H113.80 H115.85 V324.80 H117.90 V327.30 H126.00 V329.10 H136.60 V331.80 H140.70" fill="none" stroke="#cc3c40" stroke-width="1.3"/>
<line x1="128.50" y1="326.10" x2="128.50" y2="329.10" stroke="#cc3c40" stroke-width="1.1"/>
<line x1="133.50" y1="326.10" x2="133.50" y2="329.10" stroke="#cc3c40" stroke-width="1.1"/>
<line x1="137.50" y1="328.80" x2="137.50" y2="331.80" stroke="#cc3c40" stroke-width="1.1"/>
<line x1="138.50" y1="328.80" x2="138.50" y2="331.80" stroke="#cc3c40" stroke-width="1.1"/>
<line x1="139.50" y1="328.80" x2="139.50" y2="331.80" stroke="#cc3c40" stroke-width="1.1"/>
<line x1="140.50" y1="328.80" x2="140.50" y2="331.80" stroke="#cc3c40" stroke-width="1.1"/>
<path d="M298.10,216.20 H300.60 H300.80 V218.97 H301.00 V221.73 H301.20 V224.50 H302.30 H302.64 V227.06 H302.99 V229.61 H303.33 V232.17 H303.67 V234.73 H304.01 V237.29 H304.36 V239.84 H304.70 V242.40 H306.40 H307.85 V245.00 H309.30 V247.60 H311.00 H311.60 V250.05 H312.20 V252.50 H323.10 H323.87 V255.50 H324.63 V258.50 H325.40 V261.50 H326.70 V265.20 H328.50 H329.05 V268.35 H329.60 V271.50 H331.90 V281.30 H340.00 V286.50 H352.70 V291.20 H356.20 V296.30 H373.50 V301.50 H380.40 V307.30 H399.00 V312.50 H411.20 V328.10 H452.50 V343.90" fill="none" stroke="#3c3cb4" stroke-width="1.3"/>
<line x1="400.50" y1="309.50" x2="400.50" y2="312.50" stroke="#3c3cb4" stroke-width="1.1"/>
<line x1="402.50" y1="309.50" x2="402.50" y2="312.50" stroke="#3c3cb4" stroke-width="1.1"/>
<line x1="404.50" y1="309.50" x2="404.50" y2="312.50" stroke="#3c3cb4" stroke-width="1.1"/>
<line x1="406.50" y1="309.50" x2="406.50" y2="312.50" stroke="#3c3cb4" stroke-width="1.1"/>
<line x1="408.50" y1="309.50" x2="408.50" y2="312.50" stroke="#3c3cb4" stroke-width="1.1"/>
<line x1="410.50" y1="309.50" x2="410.50" y2="312.50" stroke="#3c3cb4" stroke-width="1.1"/>
<path d="M298.10,216.00 H300.60 H301.37 V218.73 H302.13 V221.47 H302.90 V224.20 H309.30 H311.03 V227.20 H312.77 V230.20 H314.50 V233.20 H315.50 V235.95 H316.50 V238.70 H317.50 V241.45 H318.50 V244.20 H319.95 V246.20 H321.40 V248.20 H324.27 V249.53 H327.13 V250.87 H330.00 V252.20 H331.15 V254.50 H332.30 V256.80 H335.20 V259.15 H338.10 V261.50 H338.73 V263.73 H339.37 V265.97 H340.00 V268.20 H343.50 H344.42 V270.94 H345.34 V273.68 H346.26 V276.42 H347.18 V279.16 H348.10 V281.90 H350.95 V283.35 H353.80 V284.80 H362.50 H364.43 V287.10 H366.37 V289.40 H368.30 V291.70 H373.50 H376.90 V294.00 V298.10 H381.50 H382.50 V300.20 H383.50 V302.30 H391.00 V304.40 H397.30 V307.30 H423.30 V325.30 H450.00" fill="none" stroke="#cc3c40" stroke-width="1.3"/>
<line x1="397.50" y1="301.40" x2="397.50" y2="304.40" stroke="#cc3c40" stroke-width="1.1"/>
<line x1="402.50" y1="304.30" x2="402.50" y2="307.30" stroke="#cc3c40" stroke-width="1.1"/>
<line x1="403.50" y1="304.30" x2="403.50" y2="307.30" stroke="#cc3c40" stroke-width="1.1"/>
<line x1="405.50" y1="304.30" x2="405.50" y2="307.30" stroke="#cc3c40" stroke-width="1.1"/>
<line x1="406.50" y1="304.30" x2="406.50" y2="307.30" stroke="#cc3c40" stroke-width="1.1"/>
<line x1="408.50" y1="304.30" x2="408.50" y2="307.30" stroke="#cc3c40" stroke-width="1.1"/>
<line x1="409.50" y1="304.30" x2="409.50" y2="307.30" stroke="#cc3c40" stroke-width="1.1"/>
<line x1="413.50" y1="304.30" x2="413.50" y2="307.30" stroke="#cc3c40" stroke-width="1.1"/>
<line x1="450.50" y1="322.30" x2="450.50" y2="325.30" stroke="#cc3c40" stroke-width="1.1"/>
<path d="M29.80,410.20 H31.00 V430.00 H31.36 V432.66 H31.72 V435.32 H32.08 V437.98 H32.44 V440.64 H32.80 V443.30 H33.90 V460.00 H34.23 V462.75 H34.55 V465.50 H34.88 V468.25 H35.20 V471.00 V490.60 H37.50 H37.70 V492.90 H37.90 V495.20 H38.10 V497.50 H54.20 V506.20 H60.00 V513.70 H71.20 V522.40 H80.40 V530.10 H183.50 V538.20" fill="none" stroke="#3c3cb4" stroke-width="1.3"/>
<path d="M29.80,410.20 H31.00 V430.00 H31.45 V432.90 H31.90 V435.80 H32.35 V438.70 H32.80 V441.60 H35.10 H35.70 V445.00 V460.00 H38.00 H38.35 V462.20 H38.70 V464.40 H46.70 H47.47 V467.17 H48.23 V469.93 H49.00 V472.70 H49.60 V476.20 H56.50 V480.20 H69.20 H69.80 V483.35 H70.40 V486.50 H73.80 H74.20 V488.83 H74.60 V491.17 H75.00 V493.50 H76.70 V495.80 V502.90 H83.50 V506.50 H88.80 V511.20 H95.80 H96.15 V513.50 H96.50 V515.80 H100.40 H100.80 V518.10 H101.20 V520.40 H126.50 V525.00 H139.60" fill="none" stroke="#cc3c40" stroke-width="1.3"/>
<line x1="128.50" y1="522.00" x2="128.50" y2="525.00" stroke="#cc3c40" stroke-width="1.1"/>
<line x1="133.50" y1="522.00" x2="133.50" y2="525.00" stroke="#cc3c40" stroke-width="1.1"/>
<line x1="137.50" y1="522.00" x2="137.50" y2="525.00" stroke="#cc3c40" stroke-width="1.1"/>
<line x1="139.50" y1="522.00" x2="139.50" y2="525.00" stroke="#cc3c40" stroke-width="1.1"/>
<path d="M298.00,411.20 H299.30 H299.60 V413.71 H299.90 V416.23 H300.20 V418.74 H300.50 V421.25 H300.80 V423.76 H301.10 V426.27 H301.40 V428.79 H301.70 V431.30 H303.40 H303.54 V433.81 H303.67 V436.32 H303.81 V438.84 H303.95 V441.35 H304.09 V443.86 H304.23 V446.38 H304.36 V448.89 H304.50 V451.40 H309.70 V458.00 H312.60 V465.50 H323.00 H323.68 V468.09 H324.36 V470.69 H325.04 V473.28 H325.71 V475.87 H326.39 V478.46 H327.07 V481.06 H327.75 V483.65 H328.43 V486.24 H329.11 V488.84 H329.79 V491.43 H330.46 V494.02 H331.14 V496.61 H331.82 V499.21 H332.50 V501.80 H340.80 V509.60 H373.80 V517.10 H399.80 V524.40 H411.80 V531.90 H452.00 V539.10" fill="none" stroke="#3c3cb4" stroke-width="1.3"/>
<line x1="307.50" y1="448.40" x2="307.50" y2="451.40" stroke="#3c3cb4" stroke-width="1.1"/>
<path d="M298.00,411.20 H303.20 V418.80 H309.70 V422.30 H315.50 H316.14 V424.93 H316.79 V427.57 H317.43 V430.20 H318.08 V432.83 H318.72 V435.47 H319.37 V438.10 H320.01 V440.73 H320.66 V443.37 H321.30 V446.00 H331.50 V449.40 H339.20 V457.50 H344.60 H344.88 V459.98 H345.17 V462.47 H345.45 V464.95 H345.73 V467.43 H346.02 V469.92 H346.30 V472.40 H353.30 V476.70 H363.20 V481.00 H370.60 H372.68 V483.78 H374.76 V486.56 H376.84 V489.34 H378.92 V492.12 H381.00 V494.90 H386.20 V496.60 H391.30 V500.10 H450.60" fill="none" stroke="#cc3c40" stroke-width="1.3"/>
<line x1="398.50" y1="497.10" x2="398.50" y2="500.10" stroke="#cc3c40" stroke-width="1.1"/>
<line x1="403.50" y1="497.10" x2="403.50" y2="500.10" stroke="#cc3c40" stroke-width="1.1"/>
<line x1="406.50" y1="497.10" x2="406.50" y2="500.10" stroke="#cc3c40" stroke-width="1.1"/>
<line x1="410.50" y1="497.10" x2="410.50" y2="500.10" stroke="#cc3c40" stroke-width="1.1"/>
<line x1="413.50" y1="497.10" x2="413.50" y2="500.10" stroke="#cc3c40" stroke-width="1.1"/>
<line x1="450.50" y1="497.10" x2="450.50" y2="500.10" stroke="#cc3c40" stroke-width="1.1"/>
</svg></body></html>
